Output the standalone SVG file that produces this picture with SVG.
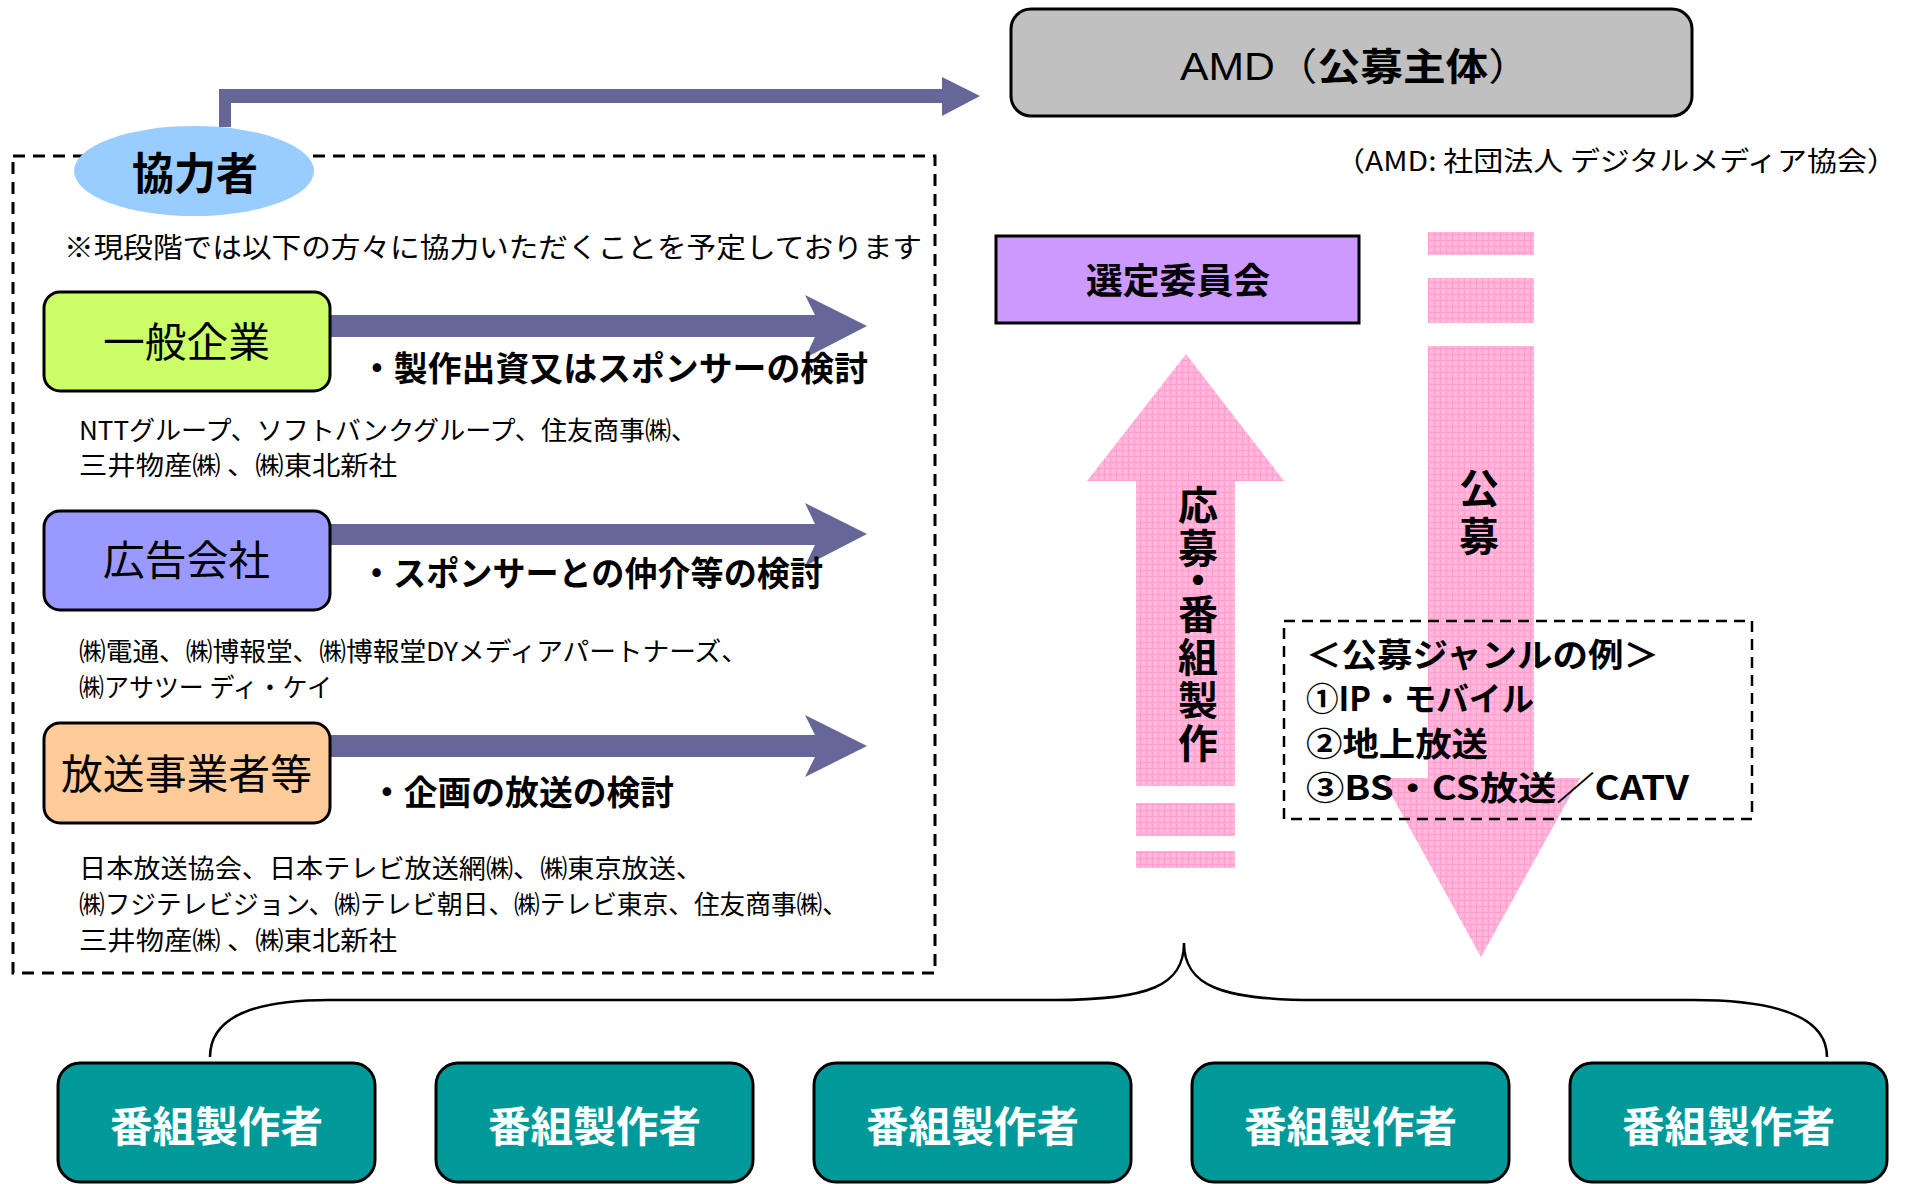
<svg xmlns="http://www.w3.org/2000/svg" width="1910" height="1184" viewBox="0 0 1910 1184">
<style>
.jp{font-family:"Noto Sans CJK JP","Noto Sans CJK SC",sans-serif;fill:#000}
.b{font-weight:bold}
.w{fill:#fff}
.sbox{stroke:#000;stroke-width:3}
.arr{fill:#666699}
.pink{fill:url(#pk)}
.dash{fill:none;stroke:#000;stroke-width:3;stroke-dasharray:12 8}
.prod{fill:#009999;stroke:#000;stroke-width:3}
.vt{writing-mode:vertical-rl}
</style>
<defs>
<pattern id="pk" width="6" height="6" patternUnits="userSpaceOnUse">
<rect width="6" height="6" fill="#ffb6da"/>
<rect width="6" height="1" fill="#ff9fcf"/>
<rect width="1" height="6" fill="#ff9fcf"/>
<rect x="3" y="3" width="1" height="1" fill="#ffd0e8"/>
</pattern>
</defs>
<rect width="1910" height="1184" fill="#fff"/>

<g id="connectors">
<path class="arr" d="M219 127 L219 89 L942 89 L942 77 L980 96 L942 116 L942 103 L231 103 L231 127 Z"/>
<path class="arr" d="M330 315 L815 315 L805 295 L867 326 L805 358 L815 337 L330 337 Z"/>
<path class="arr" d="M330 524 L815 524 L805 503 L867 534 L805 566 L815 545 L330 545 Z"/>
<path class="arr" d="M330 735 L815 735 L805 715 L867 746 L805 777 L815 757 L330 757 Z"/>
<g id="apply-arrow">
<path class="pink" d="M1186 354 L1284 481 L1235 481 L1235 786 L1136 786 L1136 481 L1087 481 Z"/>
<rect class="pink" x="1136" y="803" width="99" height="33"/>
<rect class="pink" x="1136" y="851" width="99" height="17"/>
</g>
<g id="call-arrow">
<rect class="pink" x="1428" y="232" width="106" height="23"/>
<rect class="pink" x="1428" y="278" width="106" height="45"/>
<path class="pink" d="M1428 346 L1534 346 L1534 778 L1580 778 L1481 957 L1382 778 L1428 778 Z"/>
</g>
<path d="M210 1057 Q210 1000 329 1000 L1054 1000 C1150 1000 1184 985 1184 943 C1184 985 1220 1000 1315 1000 L1693 1000 Q1827 1000 1827 1057" fill="none" stroke="#000" stroke-width="2.5"/>
</g>

<g id="cooperators-frame">
<rect class="dash" x="13" y="156" width="922" height="817"/>
</g>

<g id="cooperators">
<ellipse cx="194" cy="171" rx="120" ry="45" fill="#99ccff"/>
<text class="jp b" x="132" y="190" font-size="44" textLength="126" lengthAdjust="spacingAndGlyphs">協力者</text>
</g>

<g id="note">
<text class="jp" x="64" y="258" font-size="28" textLength="858" lengthAdjust="spacingAndGlyphs">※現段階では以下の方々に協力いただくことを予定しております</text>
</g>

<g id="general-companies">
<rect class="sbox" x="44" y="292" width="286" height="99" rx="16" fill="#ccff66"/>
<text class="jp" x="103" y="357" font-size="41" textLength="167" lengthAdjust="spacingAndGlyphs">一般企業</text>
<text class="jp b" x="360" y="381" font-size="34" textLength="508" lengthAdjust="spacingAndGlyphs">・製作出資又はスポンサーの検討</text>
<text class="jp" x="79" y="440" font-size="26" textLength="618" lengthAdjust="spacingAndGlyphs">NTTグループ、ソフトバンクグループ、住友商事㈱、</text>
<text class="jp" x="79" y="475" font-size="26" textLength="318" lengthAdjust="spacingAndGlyphs">三井物産㈱ 、㈱東北新社</text>
</g>

<g id="ad-agencies">
<rect class="sbox" x="44" y="511" width="286" height="99" rx="16" fill="#9999ff"/>
<text class="jp" x="103" y="575" font-size="41" textLength="167" lengthAdjust="spacingAndGlyphs">広告会社</text>
<text class="jp b" x="360" y="586" font-size="34" textLength="463" lengthAdjust="spacingAndGlyphs">・スポンサーとの仲介等の検討</text>
<text class="jp" x="79" y="661" font-size="26" textLength="669" lengthAdjust="spacingAndGlyphs">㈱電通、㈱博報堂、㈱博報堂DYメディアパートナーズ、</text>
<text class="jp" x="79" y="697" font-size="26" textLength="253" lengthAdjust="spacingAndGlyphs">㈱アサツー ディ・ケイ</text>
</g>

<g id="broadcasters">
<rect class="sbox" x="44" y="723" width="286" height="100" rx="16" fill="#ffcc99"/>
<text class="jp" x="61" y="789" font-size="41" textLength="251" lengthAdjust="spacingAndGlyphs">放送事業者等</text>
<text class="jp b" x="370" y="805" font-size="34" textLength="304" lengthAdjust="spacingAndGlyphs">・企画の放送の検討</text>
<text class="jp" x="79" y="878" font-size="26" textLength="624" lengthAdjust="spacingAndGlyphs">日本放送協会、日本テレビ放送網㈱、㈱東京放送、</text>
<text class="jp" x="79" y="914" font-size="26" textLength="769" lengthAdjust="spacingAndGlyphs">㈱フジテレビジョン、㈱テレビ朝日、㈱テレビ東京、住友商事㈱、</text>
<text class="jp" x="79" y="950" font-size="26" textLength="318" lengthAdjust="spacingAndGlyphs">三井物産㈱ 、㈱東北新社</text>
</g>

<g id="amd">
<rect class="sbox" x="1011" y="9" width="681" height="107" rx="20" fill="#c0c0c0"/>
<text class="jp" x="1180" y="80" font-size="38" textLength="351" lengthAdjust="spacingAndGlyphs"><tspan font-family="Liberation Sans, sans-serif">AMD</tspan>（<tspan class="b">公募主体</tspan>）</text>
<text class="jp" x="1335" y="171" font-size="27" textLength="562" lengthAdjust="spacingAndGlyphs">（AMD:  社団法人 デジタルメディア協会）</text>
</g>

<g id="committee">
<rect class="sbox" x="996" y="236" width="363" height="87" fill="#cc99ff"/>
<text class="jp b" x="1178" y="294" font-size="36" text-anchor="middle" textLength="184" lengthAdjust="spacingAndGlyphs">選定委員会</text>
</g>

<g id="apply-label">
<text class="jp b vt" x="1198" y="485" font-size="40" letter-spacing="3">応<tspan letter-spacing="-8">募</tspan><tspan letter-spacing="-6">・</tspan>番組製作</text>
</g>

<g id="call-label">
<text class="jp b vt" x="1479" y="468" font-size="40" letter-spacing="8">公募</text>
</g>

<g id="genres">
<rect x="1284" y="621" width="468" height="198" fill="none" stroke="#000" stroke-width="2.5" stroke-dasharray="11 7"/>
<text class="jp b" x="1306" y="667" font-size="33" textLength="353" lengthAdjust="spacingAndGlyphs">＜公募ジャンルの例＞</text>
<text class="jp b" x="1306" y="711" font-size="33" textLength="228" lengthAdjust="spacingAndGlyphs">①IP・モバイル</text>
<text class="jp b" x="1306" y="756" font-size="33" textLength="182" lengthAdjust="spacingAndGlyphs">②地上放送</text>
<text class="jp b" x="1306" y="800" font-size="33" textLength="383" lengthAdjust="spacingAndGlyphs">③BS・CS放送／CATV</text>
</g>

<g id="producer1">
<rect class="prod" x="58" y="1063" width="317" height="119" rx="22"/>
<text class="jp b w" x="216.5" y="1142" font-size="42" text-anchor="middle" textLength="213" lengthAdjust="spacingAndGlyphs">番組製作者</text>
</g>
<g id="producer2">
<rect class="prod" x="436" y="1063" width="317" height="119" rx="22"/>
<text class="jp b w" x="594.5" y="1142" font-size="42" text-anchor="middle" textLength="213" lengthAdjust="spacingAndGlyphs">番組製作者</text>
</g>
<g id="producer3">
<rect class="prod" x="814" y="1063" width="317" height="119" rx="22"/>
<text class="jp b w" x="972.5" y="1142" font-size="42" text-anchor="middle" textLength="213" lengthAdjust="spacingAndGlyphs">番組製作者</text>
</g>
<g id="producer4">
<rect class="prod" x="1192" y="1063" width="317" height="119" rx="22"/>
<text class="jp b w" x="1350.5" y="1142" font-size="42" text-anchor="middle" textLength="213" lengthAdjust="spacingAndGlyphs">番組製作者</text>
</g>
<g id="producer5">
<rect class="prod" x="1570" y="1063" width="317" height="119" rx="22"/>
<text class="jp b w" x="1728.5" y="1142" font-size="42" text-anchor="middle" textLength="213" lengthAdjust="spacingAndGlyphs">番組製作者</text>
</g>
</svg>
